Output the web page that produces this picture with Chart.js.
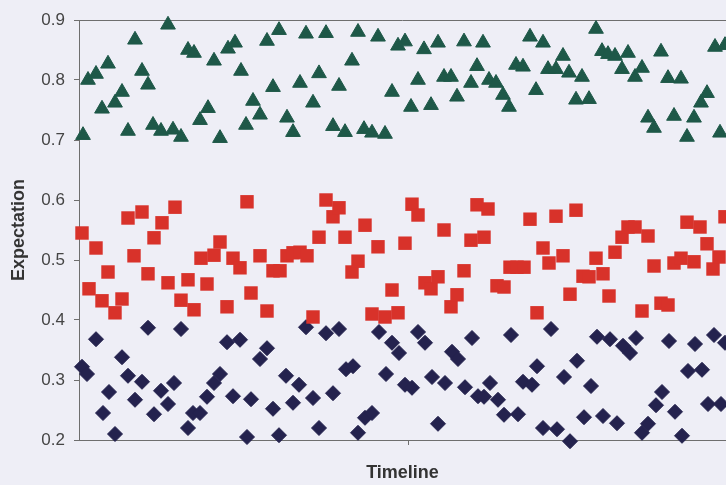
<!DOCTYPE html>
<html>
<head>
<meta charset="utf-8">
<script src="https://cdn.jsdelivr.net/npm/chart.js@4"></script>
<style>
    body { margin: 0; background: #eeeef6; }
    #wrap { width: 726px; height: 485px; }
</style>
</head>
<body>
<div id="wrap"><canvas id="myChart"></canvas></div>
<script>
// timeline positions and expectation values
const triX = [4, 9, 17, 23, 29, 36, 43, 49, 56, 63, 69, 74, 82, 89, 94, 102, 109, 115, 121, 129,
    135, 141, 149, 156, 162, 167, 174, 181, 188, 194, 200, 208, 214, 221, 227, 234, 240, 247, 254, 260,
    266, 273, 279, 285, 293, 299, 306, 313, 319, 326, 332, 339, 345, 352, 359, 365, 372, 378, 385, 392,
    398, 404, 410, 417, 424, 430, 437, 444, 451, 457, 464, 469, 477, 484, 490, 497, 503, 510, 517, 523,
    529, 536, 543, 549, 556, 563, 569, 575, 582, 589, 595, 602, 608, 615, 622, 628, 636, 641, 646];
const triY = [0.708, 0.80, 0.81, 0.752, 0.827, 0.762, 0.78, 0.715, 0.867, 0.815, 0.792, 0.725, 0.715, 0.892, 0.717, 0.705, 0.85, 0.845, 0.733, 0.753,
    0.832, 0.703, 0.852, 0.862, 0.815, 0.725, 0.765, 0.742, 0.865, 0.788, 0.883, 0.737, 0.713, 0.795, 0.877, 0.762, 0.811, 0.878, 0.723, 0.79,
    0.713, 0.832, 0.88, 0.718, 0.712, 0.872, 0.71, 0.78, 0.857, 0.864, 0.755, 0.80, 0.851, 0.758, 0.862, 0.805, 0.805, 0.772, 0.864, 0.795,
    0.823, 0.862, 0.80, 0.795, 0.775, 0.755, 0.825, 0.822, 0.872, 0.783, 0.862, 0.818, 0.818, 0.84, 0.812, 0.767, 0.805, 0.768, 0.885, 0.848,
    0.843, 0.84, 0.818, 0.845, 0.805, 0.82, 0.737, 0.72, 0.847, 0.803, 0.74, 0.802, 0.705, 0.737, 0.762, 0.778, 0.855, 0.712, 0.858];

const sqX = [3, 10, 17, 23, 29, 36, 43, 49, 55, 63, 69, 75, 83, 89, 96, 102, 109, 115, 122, 128,
    135, 141, 148, 154, 161, 168, 172, 181, 188, 194, 201, 208, 214, 221, 228, 234, 240, 247, 254, 260,
    266, 273, 279, 286, 293, 299, 306, 313, 319, 326, 333, 339, 346, 352, 359, 365, 372, 378, 385, 392,
    398, 405, 409, 418, 425, 431, 438, 445, 451, 458, 464, 470, 477, 484, 491, 497, 504, 510, 517, 524,
    530, 536, 543, 549, 556, 563, 569, 575, 582, 589, 595, 602, 608, 615, 621, 628, 634, 640, 646];
const sqY = [0.545, 0.452, 0.52, 0.432, 0.48, 0.412, 0.435, 0.57, 0.507, 0.58, 0.477, 0.537, 0.562, 0.462, 0.588, 0.433, 0.467, 0.417, 0.503, 0.46,
    0.508, 0.53, 0.422, 0.503, 0.487, 0.597, 0.445, 0.507, 0.415, 0.482, 0.482, 0.507, 0.512, 0.513, 0.507, 0.405, 0.538, 0.60, 0.572, 0.587,
    0.538, 0.48, 0.498, 0.558, 0.41, 0.522, 0.405, 0.45, 0.412, 0.528, 0.593, 0.575, 0.462, 0.452, 0.472, 0.55, 0.422, 0.442, 0.482, 0.533,
    0.592, 0.538, 0.585, 0.457, 0.455, 0.488, 0.488, 0.488, 0.568, 0.412, 0.52, 0.495, 0.573, 0.507, 0.443, 0.583, 0.473, 0.472, 0.503, 0.477,
    0.44, 0.513, 0.538, 0.555, 0.555, 0.415, 0.54, 0.49, 0.428, 0.425, 0.495, 0.503, 0.563, 0.497, 0.555, 0.527, 0.485, 0.505, 0.572];

const dmX = [3, 8, 17, 24, 30, 36, 43, 49, 56, 63, 69, 75, 82, 89, 95, 102, 109, 114, 121, 128,
    135, 141, 148, 154, 161, 168, 172, 181, 188, 194, 200, 207, 214, 220, 227, 234, 240, 247, 254, 260,
    267, 274, 279, 286, 293, 300, 307, 313, 320, 326, 333, 339, 346, 353, 359, 366, 373, 379, 386, 393,
    399, 405, 411, 419, 425, 432, 439, 444, 453, 458, 464, 472, 478, 485, 491, 498, 505, 512, 518, 524,
    531, 538, 544, 551, 557, 563, 569, 577, 583, 590, 596, 603, 609, 616, 623, 629, 635, 642, 646];
const dmY = [0.322, 0.31, 0.368, 0.245, 0.28, 0.21, 0.338, 0.307, 0.267, 0.297, 0.387, 0.243, 0.282, 0.26, 0.295, 0.385, 0.22, 0.245, 0.245, 0.272,
    0.295, 0.31, 0.363, 0.273, 0.367, 0.205, 0.268, 0.335, 0.353, 0.252, 0.208, 0.307, 0.262, 0.292, 0.388, 0.27, 0.22, 0.378, 0.278, 0.385,
    0.318, 0.323, 0.212, 0.237, 0.245, 0.38, 0.31, 0.362, 0.345, 0.292, 0.287, 0.38, 0.362, 0.305, 0.227, 0.295, 0.347, 0.335, 0.288, 0.37,
    0.273, 0.272, 0.295, 0.267, 0.242, 0.375, 0.243, 0.297, 0.292, 0.323, 0.22, 0.385, 0.218, 0.305, 0.198, 0.332, 0.238, 0.29, 0.372, 0.24,
    0.368, 0.228, 0.357, 0.345, 0.37, 0.212, 0.227, 0.258, 0.28, 0.365, 0.247, 0.207, 0.315, 0.36, 0.317, 0.26, 0.375, 0.26, 0.362];

const yTicks = [0.2, 0.3, 0.4, 0.5, 0.6, 0.7, 0.8, 0.9];
const xTicks = [329];

function toPoints(xs, ys) {
    var pts = [];
    for (var i = 0; i < xs.length; i++) {
        pts.push({x: xs[i], y: ys[i]});
    }
    return pts;
}

const bgPlugin = {
    id: 'bg',
    beforeDraw: function(chart) {
        var ctx = chart.ctx;
        ctx.save();
        ctx.fillStyle = '#eeeef6';
        ctx.fillRect(0, 0, chart.width, chart.height);
        ctx.restore();
    },
    beforeDatasetsDraw: function(chart) {
        var ctx = chart.ctx, a = chart.chartArea;
        ctx.save();
        ctx.strokeStyle = '#6e6e6e';
        ctx.lineWidth = 1;
        ctx.beginPath();
        ctx.moveTo(a.left, a.top + 0.5);
        ctx.lineTo(chart.width, a.top + 0.5);
        ctx.stroke();
        ctx.restore();
    }
};

const data = {
    datasets: [
        {
            label: 'High',
            data: toPoints(triX, triY),
            pointStyle: 'triangle',
            pointRadius: 8.5,
            backgroundColor: '#1e5848',
            borderColor: '#1e5848',
            borderWidth: 1,
            clip: false,
        },
        {
            label: 'Mid',
            data: toPoints(sqX, sqY),
            pointStyle: 'rect',
            pointRadius: 9.5,
            backgroundColor: '#d8322a',
            borderColor: '#d8322a',
            borderWidth: 0,
            clip: false,
        },
        {
            label: 'Low',
            data: toPoints(dmX, dmY),
            pointStyle: 'rectRot',
            pointRadius: 7.5,
            backgroundColor: '#24224e',
            borderColor: '#24224e',
            borderWidth: 1,
            clip: false,
        },
    ],
};

const config = {
    type: 'scatter',
    data: data,
    plugins: [bgPlugin],
    options: {
        responsive: true,
        maintainAspectRatio: false,
        animation: false,
        layout: {
            autoPadding: false,
            padding: {top: 20, right: 0, left: 0, bottom: 0},
        },
        plugins: {
            legend: {display: false},
            tooltip: {enabled: false},
        },
        scales: {
            x: {
                type: 'linear',
                min: 0,
                max: 647,
                afterFit: function(scale) { scale.height = 45; },
                afterBuildTicks: function(scale) {
                    scale.ticks = xTicks.map(function(v) { return {value: v}; });
                },
                ticks: {display: false},
                grid: {display: true, drawOnChartArea: false, drawTicks: true, tickLength: 5, color: '#6e6e6e'},
                border: {display: true, color: '#6e6e6e'},
                title: {
                    display: true,
                    text: 'Timeline',
                    color: '#333333',
                    font: {family: 'Liberation Sans, Arial', size: 18, weight: 'bold'},
                    padding: {top: 0, bottom: 1},
                },
            },
            y: {
                min: 0.2,
                max: 0.9,
                afterFit: function(scale) { scale.width = 79; },
                afterBuildTicks: function(scale) {
                    scale.ticks = yTicks.map(function(v) { return {value: v}; });
                },
                ticks: {
                    color: '#454545',
                    padding: 9,
                    font: {family: 'Liberation Sans, Arial', size: 17},
                    callback: function(v) { return v.toFixed(1); },
                },
                grid: {display: true, drawOnChartArea: false, drawTicks: true, tickLength: 5, color: '#6e6e6e'},
                border: {display: true, color: '#6e6e6e'},
                title: {
                    display: true,
                    text: 'Expectation',
                    color: '#333333',
                    font: {family: 'Liberation Sans, Arial', size: 18, weight: 'bold'},
                    padding: {top: 8, bottom: 0},
                },
            },
        },
    },
};

const myChart = new Chart(
    document.getElementById('myChart'),
    config,
);
</script>
</body>
</html>
